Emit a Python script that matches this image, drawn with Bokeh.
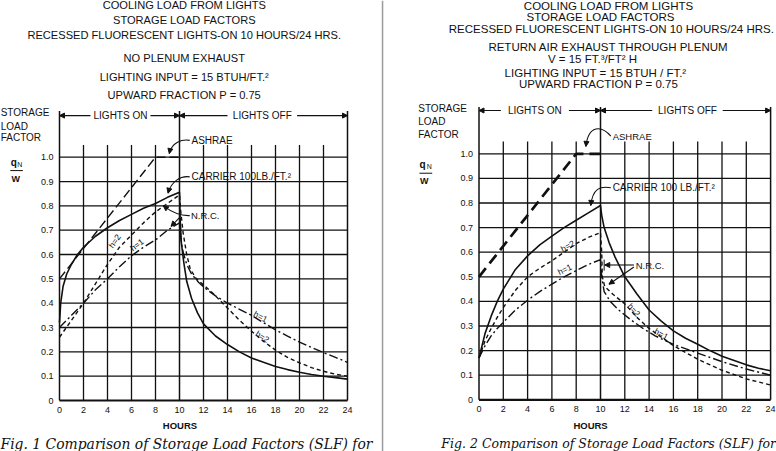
import numpy as np
from bokeh.plotting import figure
from bokeh.layouts import row
from bokeh.models import (LinearAxis, FixedTicker, CustomJSTickFormatter, Arrow,
                          NormalHead, Span, Range1d)
from bokeh.core.properties import value
from bokeh.embed import file_html
from bokeh.resources import INLINE

# ---------------------------------------------------------------- data
HOUR_TICKS = [0, 2, 4, 6, 8, 10, 12, 14, 16, 18, 20, 22, 24]
SLF_TICKS = [0, 0.1, 0.2, 0.3, 0.4, 0.5, 0.6, 0.7, 0.8, 0.9, 1.0]
LIGHTS_OFF_HOUR = 10

# Fig. 1 -- no plenum exhaust
f1_ashrae_x = [0, 8, 10]
f1_ashrae_y = [0.5, 1.0, 1.0]
f1_carrier_on_x = [0, 0.1, 0.3, 0.6, 1, 1.5, 2, 3, 4, 5, 6, 7, 8, 9, 10]
f1_carrier_on_y = [0.32, 0.40, 0.47, 0.52, 0.56, 0.60, 0.63, 0.675, 0.71, 0.74, 0.765, 0.79, 0.81, 0.835, 0.856]
f1_carrier_off_x = [10.05, 10.15, 10.35, 10.6, 11, 11.5, 12, 13, 14, 15, 16, 17, 18, 19, 20, 21, 22, 23, 24]
f1_carrier_off_y = [0.75, 0.65, 0.57, 0.49, 0.42, 0.36, 0.315, 0.265, 0.23, 0.20, 0.175, 0.157, 0.14, 0.127, 0.116, 0.107, 0.10, 0.094, 0.088]
f1_nrc_h2_on_x = [0, 1, 2, 3, 4, 5, 6, 7, 8, 9, 10]
f1_nrc_h2_on_y = [0.26, 0.33, 0.40, 0.48, 0.56, 0.63, 0.68, 0.73, 0.775, 0.81, 0.845]
f1_nrc_h2_off_x = [10.1, 10.3, 10.6, 10.9, 11.4, 12, 12.8, 13.4, 14, 15, 16, 17, 18, 19, 20, 21, 22, 23, 24]
f1_nrc_h2_off_y = [0.78, 0.69, 0.60, 0.54, 0.50, 0.475, 0.44, 0.41, 0.38, 0.33, 0.285, 0.243, 0.207, 0.177, 0.155, 0.135, 0.12, 0.108, 0.10]
f1_nrc_h1_on_x = [0, 1, 2, 3, 4, 5, 6, 7, 8, 9, 10]
f1_nrc_h1_on_y = [0.30, 0.35, 0.40, 0.455, 0.50, 0.55, 0.595, 0.63, 0.66, 0.70, 0.73]
f1_nrc_h1_off_x = [10.1, 10.3, 10.6, 11, 11.6, 12.3, 13, 14, 15, 16, 17, 18, 19, 20, 21, 22, 23, 24]
f1_nrc_h1_off_y = [0.67, 0.61, 0.56, 0.52, 0.485, 0.455, 0.43, 0.40, 0.375, 0.35, 0.32, 0.29, 0.265, 0.24, 0.218, 0.197, 0.177, 0.157]

# Fig. 2 -- return air exhaust through plenum
f2_ashrae_x = [0, 8, 10]
f2_ashrae_y = [0.5, 1.0, 1.0]
f2_carrier_on_x = [0, 0.5, 1, 1.5, 2, 3, 4, 5, 6, 7, 8, 9, 10]
f2_carrier_on_y = [0.17, 0.27, 0.34, 0.40, 0.45, 0.53, 0.585, 0.63, 0.665, 0.70, 0.73, 0.76, 0.79]
f2_carrier_off_x = [10.1, 10.3, 10.7, 11.2, 12, 13, 14, 15, 16, 17, 18, 19, 20, 21, 22, 23, 24]
f2_carrier_off_y = [0.75, 0.70, 0.64, 0.58, 0.50, 0.43, 0.365, 0.32, 0.28, 0.25, 0.226, 0.20, 0.177, 0.16, 0.142, 0.128, 0.118]
f2_nrc_h2_on_x = [0, 0.5, 1, 1.5, 2, 3, 4, 5, 6, 7, 8, 9, 10]
f2_nrc_h2_on_y = [0.17, 0.24, 0.29, 0.335, 0.375, 0.445, 0.50, 0.535, 0.565, 0.60, 0.635, 0.66, 0.68]
f2_nrc_h2_off_x = [10.1, 10.15, 10.35, 11, 12, 13, 14, 15, 16, 18, 20, 22, 24]
f2_nrc_h2_off_y = [0.60, 0.50, 0.46, 0.43, 0.39, 0.335, 0.29, 0.255, 0.22, 0.165, 0.12, 0.085, 0.06]
f2_nrc_h1_on_x = [0, 0.5, 1, 1.5, 2, 3, 4, 5, 6, 7, 8, 9, 10]
f2_nrc_h1_on_y = [0.17, 0.22, 0.26, 0.29, 0.315, 0.365, 0.405, 0.44, 0.47, 0.50, 0.525, 0.55, 0.57]
f2_nrc_h1_off_x = [10.1, 10.3, 10.8, 11.5, 12.5, 13.5, 14.5, 16, 18, 20, 22, 24]
f2_nrc_h1_off_y = [0.50, 0.44, 0.40, 0.365, 0.325, 0.29, 0.26, 0.225, 0.19, 0.155, 0.125, 0.10]

# ---------------------------------------------------------------- style
INK = "#111111"
SANS = "Liberation Sans"
SERIF = "DejaVu Serif"
HEIGHT = 451
GRID_TOP = 1.05
BAR_TOP = 1.19


def make_panel(width, px_left, px_per_hour, px_zero, px_per_unit):
    """Frame fills the whole canvas; axes are pinned at x=0 / y=0."""
    x0 = -px_left / px_per_hour
    x1 = (width - px_left) / px_per_hour
    y1 = px_zero / px_per_unit
    y0 = y1 - HEIGHT / px_per_unit
    p = figure(width=width, height=HEIGHT, x_range=Range1d(x0, x1), y_range=Range1d(y0, y1),
               output_backend="svg", toolbar_location=None, min_border=0,
               x_axis_location=None, y_axis_location=None, outline_line_color=None,
               background_fill_color="white", border_fill_color="white")
    p.grid.visible = False

    common = dict(axis_line_color=None, major_tick_line_color=None, minor_tick_line_color=None,
                  major_tick_in=0, major_tick_out=0, minor_tick_in=0, minor_tick_out=0,
                  major_label_standoff=6, major_label_text_font=SANS,
                  major_label_text_font_size="9px", major_label_text_color=INK)
    xax = LinearAxis(fixed_location=0, ticker=FixedTicker(ticks=HOUR_TICKS), **common)
    yax = LinearAxis(fixed_location=0, ticker=FixedTicker(ticks=SLF_TICKS),
                     formatter=CustomJSTickFormatter(code="return tick == 0 ? '0' : tick.toFixed(1)"),
                     **common)
    p.add_layout(xax, "below")
    p.add_layout(yax, "left")

    # grid: vertical hour lines, taller at the period boundaries
    tall = [h for h in HOUR_TICKS if h in (0, LIGHTS_OFF_HOUR, 24)]
    short = [h for h in HOUR_TICKS if h not in tall]
    p.segment(x0=short, y0=[0] * len(short), x1=short, y1=[GRID_TOP] * len(short),
              line_color=INK, line_width=1.3)
    p.segment(x0=tall, y0=[0] * len(tall), x1=tall, y1=[BAR_TOP] * len(tall),
              line_color=INK, line_width=1.5)
    hz = SLF_TICKS[1:]
    p.segment(x0=[0] * len(hz), y0=hz, x1=[24] * len(hz), y1=hz, line_color=INK, line_width=1.3)
    p.segment(x0=[0], y0=[0], x1=[24], y1=[0], line_color=INK, line_width=2.2)
    return p


def txt(p, x, y, s, size, align="center", font=SANS, style="normal", angle=0.0):
    p.text(x=[x], y=[y], text=[s], text_font=value(font), text_font_size=value(size),
           text_font_style=style, text_align=align, text_baseline="middle",
           angle=angle, text_color=INK)


def head(p, xs, ys, xe, ye, size=5):
    p.add_layout(Arrow(end=NormalHead(size=size, fill_color=INK, line_color=INK, line_width=1),
                       x_start=xs, y_start=ys, x_end=xe, y_end=ye, line_color=None))


def arrow(p, xs, ys, xe, ye):
    p.line([xs, xe], [ys, ye], line_color=INK, line_width=1.1)
    head(p, xs, ys, xe, ye)


def leader(p, start, c0, c1, end):
    p.bezier(x0=[start[0]], y0=[start[1]], x1=[end[0]], y1=[end[1]],
             cx0=[c0[0]], cy0=[c0[1]], cx1=[c1[0]], cy1=[c1[1]], line_color=INK, line_width=1.1)
    head(p, c1[0], c1[1], end[0], end[1], size=5)


def lights_bar(p, y, on_c, on_half, off_c, off_half):
    txt(p, on_c, y, "LIGHTS ON", "10px")
    txt(p, off_c, y, "LIGHTS OFF", "10px")
    arrow(p, on_c - on_half, y, 0, y)
    arrow(p, on_c + on_half, y, LIGHTS_OFF_HOUR, y)
    arrow(p, off_c - off_half, y, LIGHTS_OFF_HOUR, y)
    arrow(p, off_c + off_half, y, 24, y)


def curves(p, ashrae, carrier, h2, h1, ashrae_w, ashrae_dash):
    p.line(ashrae[0], ashrae[1], line_color=INK, line_width=ashrae_w, line_dash=ashrae_dash)
    p.line(carrier[0], carrier[1], line_color=INK, line_width=1.6)
    p.line(h2[0], h2[1], line_color=INK, line_width=1.4, line_dash="4 3")
    p.line(h1[0], h1[1], line_color=INK, line_width=1.4, line_dash="9 3 2 3")


# ---------------------------------------------------------------- Fig. 1
p1 = make_panel(388, 59, 12.0, 400, 243.3)
curves(p1, (f1_ashrae_x, f1_ashrae_y),
       (f1_carrier_on_x + f1_carrier_off_x, f1_carrier_on_y + f1_carrier_off_y),
       (f1_nrc_h2_on_x + f1_nrc_h2_off_x, f1_nrc_h2_on_y + f1_nrc_h2_off_y),
       (f1_nrc_h1_on_x + f1_nrc_h1_off_x, f1_nrc_h1_on_y + f1_nrc_h1_off_y),
       1.4, "9 4")

for s, y in [("COOLING LOAD FROM LIGHTS", 1.626), ("STORAGE LOAD FACTORS", 1.564),
             ("RECESSED FLUORESCENT LIGHTS-ON 10 HOURS/24 HRS.", 1.504),
             ("NO PLENUM EXHAUST", 1.408), ("LIGHTING INPUT = 15 BTUH/FT.²", 1.328),
             ("UPWARD FRACTION P = 0.75", 1.254)]:
    txt(p1, 10.4, y, s, "11.1px")
for s, y in [("STORAGE", 1.182), ("LOAD", 1.128), ("FACTOR", 1.079)]:
    txt(p1, -4.9, y, s, "10px", align="left")
txt(p1, -3.8, 0.978, "q", "10px", style="bold")
txt(p1, -3.3, 0.970, "N", "7px")
p1.line([-4.1, -3.05], [0.945, 0.945], line_color=INK, line_width=1)
txt(p1, -3.65, 0.910, "W", "9px", style="bold")

lights_bar(p1, 1.171, 5.08, 2.5, 16.9, 2.9)

txt(p1, 11.0, 1.069, "ASHRAE", "10px", align="left")
leader(p1, (10.85, 1.069), (10.2, 1.075), (9.35, 1.06), (9.15, 1.015))
txt(p1, 11.0, 0.919, "CARRIER  100LB./FT.²", "10px", align="left")
leader(p1, (10.85, 0.919), (10.1, 0.925), (9.3, 0.90), (9.05, 0.852))
txt(p1, 10.95, 0.760, "N.R.C.", "9.5px", align="left")
leader(p1, (10.85, 0.760), (10.0, 0.758), (9.2, 0.78), (8.65, 0.80))
arrow(p1, 10.0, 0.752, 9.3, 0.716)

txt(p1, 4.6, 0.655, "h=2", "8.5px", angle=0.96)
txt(p1, 6.45, 0.640, "h=1", "8.5px", angle=0.66)
txt(p1, 16.75, 0.345, "h=1", "8.5px", angle=-0.5)
txt(p1, 16.9, 0.262, "h=2", "8.5px", angle=-0.58)

txt(p1, 10.04, -0.103, "HOURS", "9.5px", style="bold")
txt(p1, 0.0 - 59 / 12.0, -0.177, "Fig. 1  Comparison of Storage Load Factors (SLF) for", "13.9px",
    align="left", font=SERIF, style="italic")
p1.add_layout(Span(location=26.92, dimension="height", line_color="#9a9a9a", line_width=1.5))

# ---------------------------------------------------------------- Fig. 2
p2 = make_panel(388, 90.5, 12.15, 399.3, 246.0)
curves(p2, (f2_ashrae_x, f2_ashrae_y),
       (f2_carrier_on_x + f2_carrier_off_x, f2_carrier_on_y + f2_carrier_off_y),
       (f2_nrc_h2_on_x + f2_nrc_h2_off_x, f2_nrc_h2_on_y + f2_nrc_h2_off_y),
       (f2_nrc_h1_on_x + f2_nrc_h1_off_x, f2_nrc_h1_on_y + f2_nrc_h1_off_y),
       2.7, "11 6")

for s, x, y in [("COOLING LOAD FROM LIGHTS", 10.66, 1.600), ("STORAGE LOAD FACTORS", 10.0, 1.556),
                ("RECESSED FLUORESCENT LIGHTS-ON 10 HOURS/24 HRS.", 10.9, 1.507),
                ("RETURN AIR EXHAUST THROUGH PLENUM", 10.66, 1.436),
                ("V = 15 FT.³/FT² H", 9.34, 1.385), ("LIGHTING INPUT = 15 BTUH / FT.²", 9.59, 1.330),
                ("UPWARD FRACTION P = 0.75", 9.84, 1.282)]:
    txt(p2, x, y, s, "11.5px")
for s, y in [("STORAGE", 1.186), ("LOAD", 1.133), ("FACTOR", 1.080)]:
    txt(p2, -5.0, y, s, "10px", align="left")
txt(p2, -4.65, 0.955, "q", "10px", style="bold")
txt(p2, -4.1, 0.947, "N", "7px")
p2.line([-4.9, -3.85], [0.921, 0.921], line_color=INK, line_width=1)
txt(p2, -4.5, 0.890, "W", "9px", style="bold")

lights_bar(p2, 1.176, 4.6, 2.8, 17.16, 2.9)

txt(p2, 11.0, 1.070, "ASHRAE", "9.5px", align="left")
leader(p2, (10.85, 1.072), (10.1, 1.115), (9.0, 1.12), (8.8, 1.03))
txt(p2, 11.0, 0.861, "CARRIER  100 LB./FT.²", "10px", align="left")
leader(p2, (10.85, 0.862), (10.0, 0.87), (9.35, 0.86), (9.2, 0.79))
txt(p2, 12.9, 0.546, "N.R.C.", "9.5px", align="left")
arrow(p2, 12.75, 0.548, 10.35, 0.548)
p2.line([10.3, 10.3], [0.525, 0.57], line_color=INK, line_width=1)
arrow(p2, 12.75, 0.540, 10.7, 0.47)

txt(p2, 7.3, 0.625, "h=2", "8.5px", angle=0.5)
txt(p2, 7.05, 0.530, "h=1", "8.5px", angle=0.45)
txt(p2, 12.75, 0.365, "h=2", "8.5px", angle=-0.85)
txt(p2, 15.0, 0.268, "h=1", "8.5px", angle=-0.52)

txt(p2, 9.18, -0.104, "HOURS", "9.5px", style="bold")
txt(p2, -3.1, -0.176, "Fig. 2  Comparison of Storage Load Factors (SLF) for", "12.5px",
    align="left", font=SERIF, style="italic")

layout = row(p1, p2)
open("out.html", "w").write(file_html(layout, INLINE))
